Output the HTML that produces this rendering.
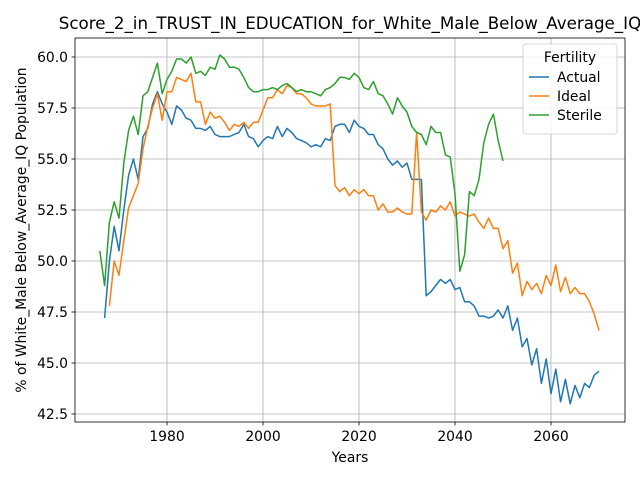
<!DOCTYPE html>
<html><head><meta charset="utf-8"><style>
body{margin:0;background:#fff;font-family:"Liberation Sans","DejaVu Sans",sans-serif}
svg text{font-family:"DejaVu Sans","Liberation Sans",sans-serif;fill:#000}
</style></head><body>
<svg id="c" width="640" height="480" xmlns="http://www.w3.org/2000/svg"></svg>
<script>
const actualStart=1967;
const actualVals=[47.2,50.0,51.7,50.5,52.5,54.2,55.0,54.0,56.1,56.5,57.7,58.3,57.7,57.3,56.7,57.6,57.4,57.0,56.9,56.5,56.5,56.4,56.6,56.2,56.1,56.1,56.1,56.2,56.3,56.7,56.1,56.0,55.6,55.9,56.1,56.0,56.6,56.1,56.5,56.3,56.0,55.9,55.8,55.6,55.7,55.6,56.0,55.9,56.6,56.7,56.7,56.3,56.9,56.6,56.5,56.2,56.2,55.7,55.5,55.0,54.7,54.9,54.6,54.8,54.0,54.0,54.0,48.3,48.5,48.8,49.1,48.9,49.1,48.6,48.7,48.0,48.0,47.8,47.3,47.3,47.2,47.3,47.6,47.2,47.8,46.6,47.2,45.8,46.2,44.9,45.7,44.0,45.2,43.5,44.7,43.1,44.2,43.0,43.9,43.3,44.0,43.8,44.4,44.6];
const idealStart=1968;
const idealVals=[47.8,50.0,49.3,51.0,52.6,53.2,53.8,55.5,56.6,57.5,58.2,56.9,58.3,58.3,59.0,58.9,58.8,59.2,57.8,57.8,56.7,57.3,57.0,57.1,56.8,56.4,56.7,56.6,56.8,56.5,56.8,56.8,57.4,58.0,58.0,58.4,58.2,58.6,58.5,58.2,58.2,58.0,57.7,57.6,57.6,57.6,57.7,53.7,53.4,53.6,53.2,53.5,53.3,53.5,53.2,53.2,52.5,52.8,52.4,52.4,52.6,52.4,52.3,52.3,56.3,52.4,52.0,52.5,52.4,52.7,52.5,52.9,52.2,52.4,52.3,52.2,52.3,51.9,51.6,52.1,51.6,51.6,50.6,51.0,49.4,49.9,48.3,49.0,48.6,48.9,48.4,49.3,48.8,49.8,48.5,49.2,48.4,48.7,48.4,48.4,48.0,47.4,46.6];
const sterileStart=1966;
const sterileVals=[50.5,48.8,51.9,52.9,52.1,54.8,56.4,57.1,56.2,58.1,58.3,59.0,59.7,58.2,58.9,59.3,59.9,59.9,59.7,60.0,59.2,59.3,59.1,59.5,59.4,60.1,59.9,59.5,59.5,59.4,59.0,58.5,58.3,58.3,58.4,58.4,58.5,58.4,58.6,58.7,58.5,58.3,58.4,58.3,58.3,58.2,58.1,58.4,58.5,58.7,59.0,59.0,58.9,59.2,59.0,58.5,58.4,58.8,58.2,58.1,57.7,57.2,58.0,57.6,57.3,56.6,56.3,56.2,55.7,56.6,56.3,56.3,55.2,55.1,53.3,49.5,50.3,53.4,53.2,54.0,55.8,56.7,57.2,55.9,54.9];
const xTicks=[1980,2000,2020,2040,2060];
const yTicks=[42.5,45.0,47.5,50.0,52.5,55.0,57.5,60.0];
const seriesNames=["Actual","Ideal","Sterile"];
const colors=["#1f77b4","#ff7f0e","#2ca02c"];

const L=75,R=625,T=38,B=422;
const xs=y=>71+(y-1960)*4.8;
const ys=v=>57+(60-v)*20.4;
const svg=document.getElementById('c');
const NS="http://www.w3.org/2000/svg";
function mk(tag,attrs,parent){const e=document.createElementNS(NS,tag);for(const k in attrs)e.setAttribute(k,attrs[k]);(parent||svg).appendChild(e);return e;}

const grid=mk('g',{});


xTicks.forEach(t=>{
  const l=mk('line',{x1:xs(t),x2:xs(t),y1:T,y2:B,stroke:'#b0b0b0','stroke-width':0.8},grid);
  
  
  const tk=mk('line',{x1:xs(t),x2:xs(t),y1:B,y2:B+3.5,stroke:'#000','stroke-width':0.8});
  
  
  const tx=mk('text',{x:xs(t),y:B+19,'text-anchor':'middle','font-size':13.9});
  tx.textContent=t;
  
  
});
yTicks.forEach(t=>{
  const l=mk('line',{x1:L,x2:R,y1:ys(t),y2:ys(t),stroke:'#b0b0b0','stroke-width':0.8},grid);
  
  
  const tk=mk('line',{x1:L-3.5,x2:L,y1:ys(t),y2:ys(t),stroke:'#000','stroke-width':0.8});
  
  
  const tx=mk('text',{x:L-7,y:ys(t)+5,'text-anchor':'end','font-size':13.9});
  tx.textContent=t.toFixed(1);
  
  
});

const clip=mk('clipPath',{id:'pc'});
mk('rect',{x:L,y:T,width:R-L,height:B-T},clip);
[[actualStart,actualVals],[idealStart,idealVals],[sterileStart,sterileVals]].forEach((s,i)=>{
  const d=s[1].map((v,j)=>(j?'L':'M')+xs(s[0]+j).toFixed(1)+','+ys(v).toFixed(1)).join('');
  const p=mk('path',{d:d,fill:'none',stroke:colors[i],'stroke-width':1.5,'stroke-linejoin':'round','clip-path':'url(#pc)'});
  
  
});

const frame=mk('rect',{x:L,y:T,width:R-L,height:B-T,fill:'none',stroke:'#000','stroke-width':0.8});



const title=mk('text',{x:350,y:29,'text-anchor':'middle','font-size':16.7});
title.textContent='Score_2_in_TRUST_IN_EDUCATION_for_White_Male_Below_Average_IQ';


const xt=mk('text',{x:350,y:462,'text-anchor':'middle','font-size':13.9});
xt.textContent='Years';


const yt=mk('text',{x:0,y:0,'text-anchor':'middle','font-size':13.9,transform:'translate(26,230) rotate(-90)'});
yt.textContent='% of White_Male Below_Average_IQ Population';



const lg=mk('g',{});


mk('rect',{x:523,y:44,width:94,height:90,rx:3,fill:'#fff','fill-opacity':0.8,stroke:'#ccc','stroke-width':0.8},lg);
const lt=mk('text',{x:570,y:62,'text-anchor':'middle','font-size':13.9},lg);
lt.textContent='Fertility';


seriesNames.forEach((n,i)=>{
  const y=77+i*19;
  const g=mk('g',{},lg);
  
  
  mk('line',{x1:529,x2:549,y1:y,y2:y,stroke:colors[i],'stroke-width':1.5},g);
  const t=mk('text',{x:557,y:y+5,'font-size':13.9},g);
  t.textContent=n;
});
</script>
</body></html>
